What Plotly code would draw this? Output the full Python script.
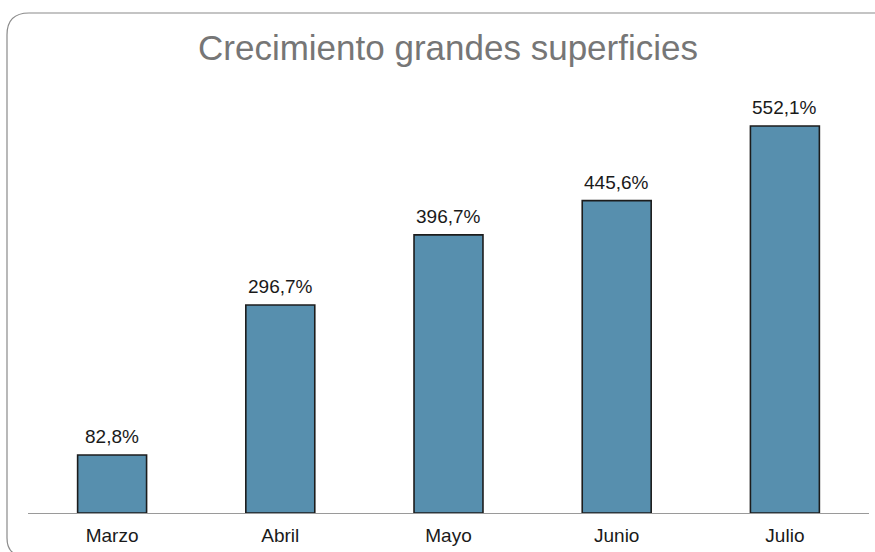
import plotly.graph_objects as go

categories = ["Marzo", "Abril", "Mayo", "Junio", "Julio"]
values = [82.8, 296.7, 396.7, 445.6, 552.1]
title_text = "Crecimiento grandes superficies"

W, H = 875, 552
L, R, T, B = 28, 6, 80, 39
pw, ph = W - L - R, H - T - B
FONT = "Liberation Sans, Arial, sans-serif"

def px_x(px):
    return (px - L) / pw

def px_y(py):
    return (H - B - py) / ph

fig = go.Figure()
fig.add_trace(go.Bar(
    x=categories, y=values,
    marker=dict(color="#578fae", line=dict(color="#1c1c1c", width=1.6)),
    width=0.41,
    hoverinfo="skip",
))

for c, v in zip(categories, values):
    fig.add_annotation(
        x=c, y=v, text=f"{v:.1f}%".replace(".", ","),
        showarrow=False, yanchor="bottom", yshift=6,
        font=dict(family=FONT, size=19, color="#1a1a1a"),
    )

# rounded frame (top-left corner and left side visible)
x0, y0, x1, r = 7, 13, 900, 22
y1b, rb = 556, 18
path = (
    f"M {px_x(x0)},{px_y(y0 + r)} "
    f"Q {px_x(x0)},{px_y(y0)} {px_x(x0 + r)},{px_y(y0)} "
    f"L {px_x(x1)},{px_y(y0)} "
    f"M {px_x(x0)},{px_y(y0 + r)} "
    f"L {px_x(x0)},{px_y(y1b - rb)} "
    f"Q {px_x(x0)},{px_y(y1b)} {px_x(x0 + rb)},{px_y(y1b)} "
    f"L {px_x(x1)},{px_y(y1b)}"
)
fig.add_shape(type="path", path=path, xref="paper", yref="paper",
              line=dict(color="#8a8a8a", width=1.2), layer="below")

fig.update_layout(
    width=W, height=H,
    margin=dict(l=L, r=R, t=T, b=B),
    paper_bgcolor="white", plot_bgcolor="white",
    separators=",.",
    showlegend=False,
    title=dict(text=title_text, x=0.512, xanchor="center", y=1 - 48 / H, yanchor="middle",
               font=dict(family=FONT, size=35, color="#767676")),
    xaxis=dict(showline=True, linecolor="#9a9a9a", linewidth=1.2, ticks="",
               ticklabelstandoff=5,
               tickfont=dict(family=FONT, size=19, color="#1a1a1a"),
               showgrid=False, zeroline=False),
    yaxis=dict(range=[0, ph / 0.701], visible=False, showgrid=False, zeroline=False),
    bargap=0.59,
)

fig.write_html("out.html", config={"displayModeBar": False},
               post_script="document.body.style.margin='0';")
